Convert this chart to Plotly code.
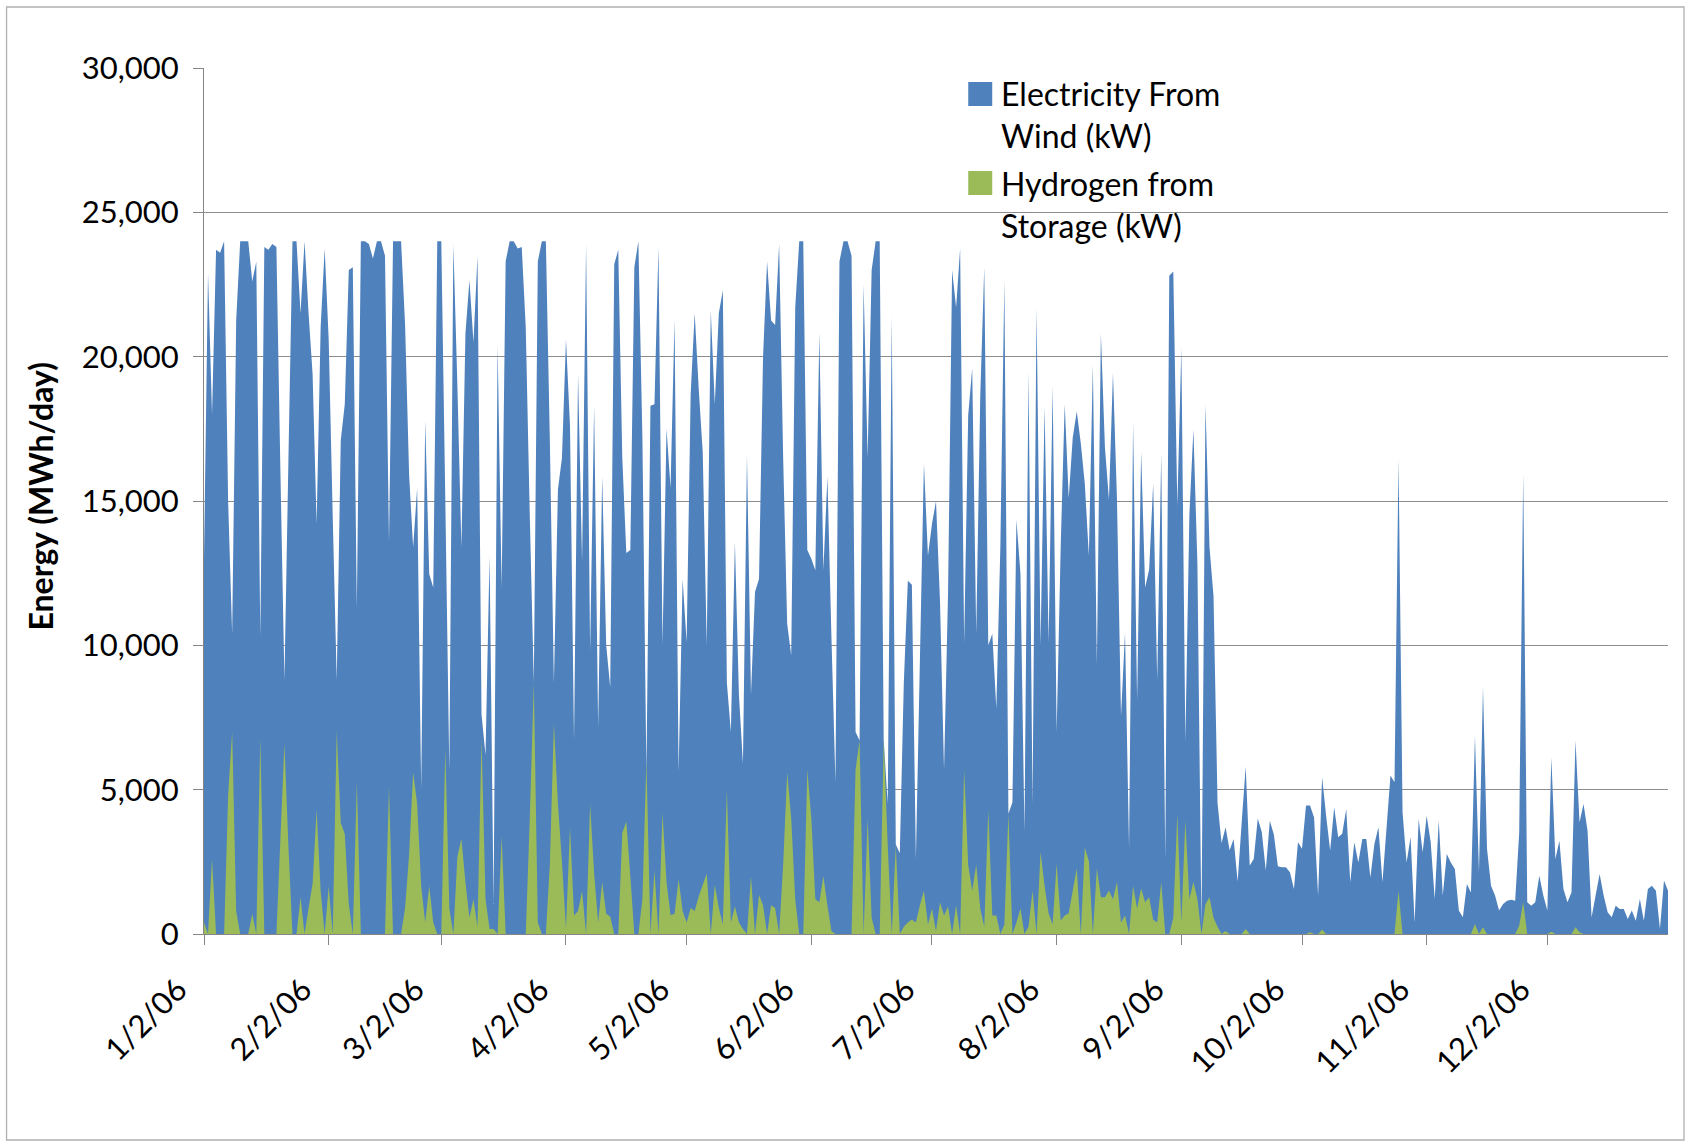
import pandas as pd
import plotly.graph_objects as go

# daily energy, one list per month-long period starting on the 2nd (MWh/day)
wind_jan = [13000, 22900, 18000, 23700, 23600, 24000, 15000, 10400, 21250, 24000,
            24000, 24000, 22600, 23300, 10300, 23800, 23700, 23900, 23800, 16000,
            8800, 16500, 24000, 24000, 21500, 24000, 21500, 19400, 14200, 21000, 23750]
wind_feb = [20600, 14500, 8800, 17100, 18350, 23000, 23100, 11300, 24000, 24000,
            23900, 23400, 24000, 24000, 23500, 13570, 24000, 24000, 24000, 21100,
            15900, 13400, 15450, 5030, 17800, 12470, 12000, 24000]
wind_mar = [24000, 15000, 5650, 23900, 19000, 13400, 20800, 22650, 20500, 23500,
            7600, 6200, 13100, 1030, 20400, 12000, 23300, 24000, 24000, 23750,
            23800, 21000, 14500, 8700, 23300, 24000, 24000, 17000, 8700, 15400, 16500]
wind_apr = [20600, 17600, 6700, 19400, 12900, 23900, 9800, 18300, 7150, 15850,
            10000, 8550, 23200, 23700, 16500, 13200, 13300, 23100, 24000, 17200,
            5600, 18300, 18350, 23800, 10000, 17500, 15450, 21300, 5600, 12300]
wind_may = [10100, 18700, 21500, 18900, 16700, 10000, 21600, 18350, 21500, 22300,
            8700, 7000, 13570, 8300, 5900, 16600, 8300, 11850, 12300, 20000,
            23300, 21250, 21100, 23900, 16500, 10750, 9650, 21700, 24000, 24000, 13300]
wind_jun = [13000, 12600, 20850, 12600, 15850, 10300, 5260, 23300, 24000, 24000,
            23500, 7000, 6700, 22500, 16500, 23000, 24000, 24000, 6700, 4500,
            21400, 3100, 2800, 8700, 12240, 12100, 2600, 9500, 16300, 13100]
wind_jul = [14200, 15000, 11500, 5700, 11850, 23000, 21700, 23750, 10100, 17950,
            19600, 10400, 18600, 23100, 10000, 10400, 7800, 13400, 22650, 4170,
            4560, 14350, 12470, 3540, 19500, 4480, 21700, 10000, 18270, 10100, 18980]
wind_aug = [7000, 13400, 18350, 15100, 17200, 18100, 17000, 15600, 13100, 19700,
            9340, 20800, 16860, 15040, 19430, 15040, 7540, 10440, 2990, 17720,
            8080, 16700, 12000, 12630, 15610, 8790, 16620, 2600, 22800, 22950, 14820]
wind_sep = [20300, 6680, 14510, 17480, 12780, 300, 18350, 13410, 11700, 4540,
            3150, 3700, 2900, 3290, 1820, 3850, 5800, 2370, 2600, 4000,
            3530, 2200, 3920, 3450, 2350, 2310, 2310, 2140, 1560, 3180]
wind_oct = [2950, 4450, 4450, 4040, 1330, 5430, 4100, 2890, 4390, 3350,
            3470, 4330, 1790, 3180, 2480, 3290, 3290, 1960, 3120, 3700,
            1790, 3640, 5490, 5260, 16460, 4220, 2480, 3350, 400, 3980, 2830]
wind_nov = [4100, 3180, 1210, 3930, 1330, 2770, 2480, 2250, 810, 580,
            1730, 1440, 6870, 2140, 8550, 2950, 1670, 1330, 810, 1040,
            1155, 1190, 1155, 3500, 15940, 1100, 980, 1100, 2020, 1330]
wind_dec = [810, 6120, 2600, 3230, 1560, 1100, 1440, 6700, 3870, 4500,
            3580, 580, 1330, 2080, 1330, 750, 580, 980, 870, 870,
            520, 810, 460, 1210, 460, 1560, 1670, 1500, 170, 1850, 1500]

h2_jan = [400, 0, 2600, 0, 0, 0, 4800, 7000, 800, 0,
          0, 0, 700, 0, 6800, 0, 0, 0, 0, 3300,
          6600, 3000, 0, 0, 1270, 0, 900, 1740, 4300, 1500, 0]
h2_feb = [1660, 0, 7050, 3850, 3460, 1030, 0, 5260, 0, 0,
          0, 0, 0, 0, 0, 5100, 0, 0, 0, 900,
          2760, 5600, 4500, 1660, 400, 1660, 400, 0]
h2_mar = [0, 6440, 880, 0, 2680, 3300, 1800, 560, 1200, 250,
          6750, 1200, 170, 170, 0, 3380, 0, 0, 0, 0,
          0, 0, 4000, 8700, 400, 0, 0, 2440, 7300, 4500, 2500]
h2_apr = [200, 3700, 640, 800, 1500, 0, 4500, 2100, 400, 1800,
          700, 600, 0, 0, 3500, 3900, 2000, 0, 0, 1200,
          6000, 0, 2200, 0, 4200, 1800, 650, 700, 1900, 800]
h2_may = [400, 900, 800, 1300, 1700, 2100, 0, 1700, 900, 330,
          5000, 400, 950, 400, 170, 0, 2000, 0, 1350, 1000,
          0, 1000, 900, 0, 2400, 5600, 4000, 1200, 0, 0, 5700]
h2_jun = [4000, 1200, 1100, 2000, 1000, 100, 0, 0, 0, 0,
          0, 5700, 6700, 0, 4000, 560, 0, 0, 6700, 3070,
          0, 3070, 0, 250, 400, 500, 400, 1000, 1500, 330]
h2_jul = [880, 100, 1100, 640, 950, 0, 1000, 0, 5700, 2400,
          1500, 2400, 880, 250, 4300, 640, 640, 0, 330, 4170,
          0, 400, 880, 0, 250, 1500, 0, 2840, 1660, 720, 330]
h2_aug = [2440, 470, 640, 720, 1500, 2270, 0, 3000, 2520, 0,
          2270, 1270, 1270, 1500, 1200, 1800, 400, 640, 0, 1660,
          880, 1580, 1100, 1270, 490, 400, 1800, 0, 0, 560, 4170]
h2_sep = [400, 3930, 1200, 1800, 1200, 0, 1030, 1270, 560, 250,
          0, 100, 0, 0, 0, 0, 170, 0, 0, 0,
          0, 0, 0, 0, 0, 0, 0, 0, 0, 0]
h2_oct = [0, 0, 60, 0, 0, 150, 0, 0, 0, 0,
          0, 0, 0, 0, 0, 0, 0, 0, 0, 0,
          0, 0, 0, 0, 1500, 0, 0, 0, 0, 0, 0]
h2_nov = [0, 0, 0, 0, 0, 0, 0, 0, 0, 0,
          0, 0, 350, 0, 230, 0, 0, 0, 0, 0,
          0, 0, 0, 290, 1100, 0, 0, 0, 0, 0]
h2_dec = [0, 80, 0, 0, 0, 0, 0, 230, 60, 0,
          0, 0, 0, 0, 0, 0, 0, 0, 0, 0,
          0, 0, 0, 0, 0, 0, 0, 0, 0, 0, 0]

tick_dates = ['2006-01-02', '2006-02-02', '2006-03-02', '2006-04-02', '2006-05-02', '2006-06-02',
              '2006-07-02', '2006-08-02', '2006-09-02', '2006-10-02', '2006-11-02', '2006-12-02']
tick_labels = ['1/2/06', '2/2/06', '3/2/06', '4/2/06', '5/2/06', '6/2/06',
               '7/2/06', '8/2/06', '9/2/06', '10/2/06', '11/2/06', '12/2/06']

wind = (wind_jan + wind_feb + wind_mar + wind_apr + wind_may + wind_jun +
        wind_jul + wind_aug + wind_sep + wind_oct + wind_nov + wind_dec)
hydrogen = (h2_jan + h2_feb + h2_mar + h2_apr + h2_may + h2_jun +
            h2_jul + h2_aug + h2_sep + h2_oct + h2_nov + h2_dec)
dates = pd.date_range('2006-01-02', periods=len(wind), freq='D')

BLUE = '#4F81BD'
GREEN = '#9BBB59'
AXIS = '#868686'
FONT = 'Lato, Open Sans, sans-serif'

# plot area in page pixels
W, H = 1690, 1146
L, R, T, B = 203.5, 1668, 68, 934


def px(x):
    return (x - L) / (R - L)


def py(y):
    return (B - y) / (B - T)


fig = go.Figure()
fig.add_trace(go.Scatter(x=dates, y=wind, mode='none', fill='tozeroy',
                         fillcolor=BLUE, name='Electricity From Wind (kW)',
                         showlegend=False, hoverinfo='skip'))
fig.add_trace(go.Scatter(x=dates[:len(hydrogen)], y=hydrogen, mode='none', fill='tozeroy',
                         fillcolor=GREEN, name='Hydrogen from Storage (kW)',
                         showlegend=False, hoverinfo='skip'))

shapes = [
    # chart area border
    dict(type='rect', xref='paper', yref='paper', x0=px(6), x1=px(1684), y0=py(7), y1=py(1140),
         line=dict(color='#b0b0b0', width=1.3), fillcolor='rgba(0,0,0,0)', layer='below'),
    # legend background
    dict(type='rect', xref='paper', yref='paper', x0=px(921), x1=px(1259), y0=py(72), y1=py(245),
         line=dict(width=0), fillcolor='white', layer='between'),
    dict(type='rect', xref='paper', yref='paper', x0=px(968), x1=px(992), y0=py(82), y1=py(106),
         line=dict(width=0), fillcolor=BLUE, layer='above'),
    dict(type='rect', xref='paper', yref='paper', x0=px(968), x1=px(992), y0=py(171), y1=py(195),
         line=dict(width=0), fillcolor=GREEN, layer='above'),
]

annotations = [
    dict(xref='paper', yref='paper', x=px(999), y=py(115), xanchor='left', yanchor='middle',
         text='Electricity From<br>Wind (kW)', showarrow=False, align='left',
         font=dict(family=FONT, size=32, color='black')),
    dict(xref='paper', yref='paper', x=px(999), y=py(204), xanchor='left', yanchor='middle',
         text='Hydrogen from<br>Storage (kW)', showarrow=False, align='left',
         font=dict(family=FONT, size=32, color='black')),
    # y axis title
    dict(xref='paper', yref='paper', x=px(39), y=py(496), xanchor='center', yanchor='middle',
         text='<b>Energy (MWh/day)</b>', textangle=-90, showarrow=False,
         font=dict(family=FONT, size=32, color='black')),
]

fig.update_layout(
    width=W, height=H,
    margin=dict(l=L, r=W - R, t=T, b=H - B, pad=0),
    paper_bgcolor='white', plot_bgcolor='white',
    showlegend=False,
    shapes=shapes,
    annotations=annotations,
    font=dict(family=FONT, size=31, color='black'),
)
fig.update_xaxes(
    type='date', range=[dates[0], dates[-1]],
    tickvals=tick_dates, ticktext=tick_labels, tickangle=-45,
    ticks='outside', ticklen=10, tickcolor=AXIS, tickwidth=1.3,
    showline=True, linecolor=AXIS, linewidth=1.3,
    showgrid=False, zeroline=False,
    ticklabelstandoff=14, ticklabelshift=-26,
    tickfont=dict(family=FONT, size=31, color='black'),
)
fig.update_yaxes(
    range=[0, 30000], dtick=5000, tickformat=',d',
    ticks='outside', ticklen=10, tickcolor=AXIS, tickwidth=1.3,
    showline=True, linecolor=AXIS, linewidth=1.3,
    showgrid=True, gridcolor='#8c8c8c', gridwidth=1,
    zeroline=False, ticklabelstandoff=8,
    tickfont=dict(family=FONT, size=31, color='black'),
)

# page body margin would offset the figure by 8px
fig.write_html('out.html', config={'displayModeBar': False},
               post_script="document.body.style.margin='0px';")
